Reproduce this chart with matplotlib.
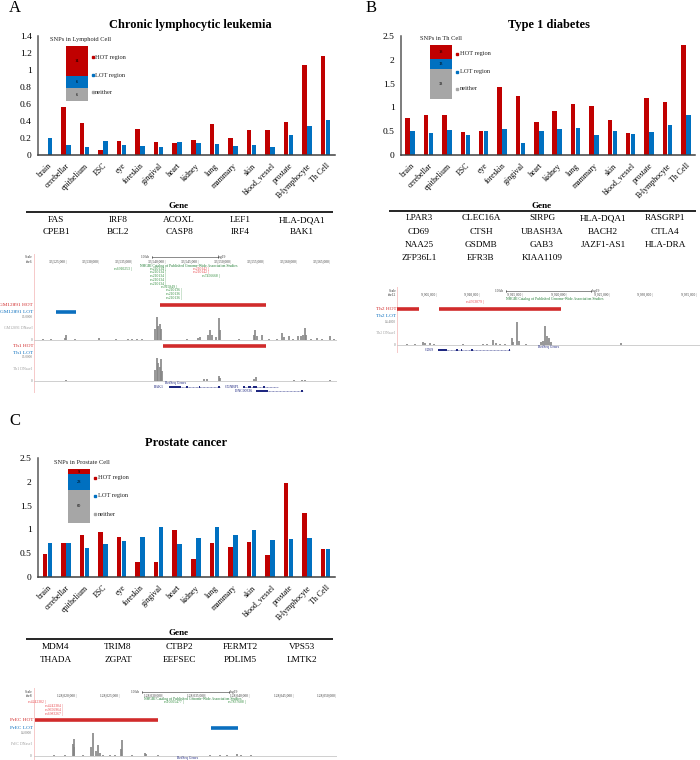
import matplotlib
matplotlib.use('Agg')
import matplotlib.pyplot as plt
import numpy as np

plt.rcParams['font.family'] = ['Liberation Serif', 'DejaVu Serif']

W, H = 700, 760

tissues = ['brain', 'cerebellar', 'epithelium', 'ESC', 'eye', 'foreskin', 'gingival', 'heart',
           'kidney', 'lung', 'mammary', 'skin', 'blood_vessel', 'prostate', 'B-lymphocyte', 'Th Cell']

# Enrichment bars
cll_hot = [0, .56, .38, .06, .17, .31, .15, .14, .18, .36, .20, .30, .29, .39, 1.06, 1.16]
cll_lot = [.20, .12, .09, .16, .12, .11, .09, .15, .14, .13, .11, .12, .10, .23, .34, .41]
t1d_hot = [.77, .85, .83, .48, .51, 1.42, 1.23, .70, .92, 1.08, 1.03, .73, .47, 1.19, 1.12, 2.32]
t1d_lot = [.50, .47, .53, .43, .50, .55, .26, .50, .55, .56, .42, .51, .45, .48, .63, .85]
pca_hot = [.48, .71, .89, .95, .84, .32, .32, .98, .37, .72, .62, .73, .47, 1.97, 1.35, .59]
pca_lot = [.71, .71, .60, .70, .75, .84, 1.05, .69, .82, 1.05, .89, .98, .77, .80, .82, .58]

# SNP counts in the small stacked bars (HOT, LOT, neither)
cll_snps = [14, 6, 6]
t1d_snps = [18, 13, 38]
pca_snps = [9, 28, 60]

cll_genes = [['FAS', 'IRF8', 'ACOXL', 'LEF1', 'HLA-DQA1'],
             ['CPEB1', 'BCL2', 'CASP8', 'IRF4', 'BAK1']]
t1d_genes = [['LPAR3', 'CLEC16A', 'SIRPG', 'HLA-DQA1', 'RASGRP1'],
             ['CD69', 'CTSH', 'UBASH3A', 'BACH2', 'CTLA4'],
             ['NAA25', 'GSDMB', 'GAB3', 'JAZF1-AS1', 'HLA-DRA'],
             ['ZFP36L1', 'EFR3B', 'KIAA1109']]
pca_genes = [['MDM4', 'TRIM8', 'CTBP2', 'FERMT2', 'VPS53'],
             ['THADA', 'ZGPAT', 'EEFSEC', 'PDLIM5', 'LMTK2']]

# Browser signal tracks: position in kb, height in track units
gm_pos = [33521.4, 33524.6, 33524.8, 33529.9, 33534.9, 33535.6, 33538.3, 33538.6, 33538.8, 33539.0, 33539.2,
          33544.8, 33545.2, 33546.3, 33546.6, 33546.9, 33547.5, 33548.0, 33548.2, 33553.3, 33553.5, 33553.8,
          33554.6, 33556.8, 33557.6, 33557.9, 33558.7, 33560.0, 33560.4, 33560.7, 33561.0, 33561.2, 33562.8, 33564.8,
          33520.6, 33522.5, 33523.4, 33526.2, 33527.5, 33528.6, 33531.2, 33532.4, 33533.5, 33534.2, 33536.4, 33540.5,
          33541.8, 33543.2, 33544.1, 33549.5, 33551.0, 33552.4, 33555.6, 33559.3, 33561.9, 33563.6, 33565.4]
gm_val = [.6, 1.2, 3.1, 1.2, .6, .8, 7, 14.2, 9, 10, 7, 1, 1.7, 3, 6.2, 3, 2, 13.5, 6, 3, 6.2, 2.5,
          3.1, .8, 4.6, 2, 2.5, 2.5, 2.8, 3, 7.3, 3, 1, 2.5,
          .3, .4, .3, .4, .3, .3, .3, .4, .3, .5, .4, .3, .3, .4, .3, .3, .4, .3, .4, .6, .4, .4, .4]
th1_pos = [33524.8, 33538.3, 33538.6, 33538.8, 33539.0, 33539.2, 33539.4, 33545.8, 33546.2, 33548.0, 33548.2,
           33553.3, 33553.6, 33560.6, 33561.0, 33564.8,
           33522.0, 33527.6, 33530.5, 33535.1, 33541.5, 33543.6, 33550.3, 33556.4, 33559.4, 33562.5]
th1_val = [.8, 7, 14.5, 11, 9, 13.5, 6, 1, 1.4, 3.2, 1.6, 1.2, 2.5, .6, .8, .5,
           .2, .2, .3, .2, .3, .3, .3, .2, .4, .2]
th2_pos = [9901.5, 9903.3, 9903.6, 9904.2, 9904.6, 9908.0, 9910.3, 9911.4, 9911.8, 9912.8, 9913.6, 9913.8, 9914.2,
           9914.4, 9917.0, 9917.2, 9917.5, 9917.7, 9917.9, 9918.1, 9926.2,
           9900.6, 9902.4, 9905.4, 9906.5, 9909.2, 9910.8, 9912.2, 9915.3, 9916.2, 9919.2, 9921.4, 9924.1, 9929.5, 9932.6]
th2_val = [.6, 2, 1.2, 1, .6, .4, .8, 3.2, 1.2, .8, 4, 2, 14, 2.5, 1.6, 2.5, 11.5, 5.3, 4.5, 2, 1.2,
           .3, .5, .3, .3, .3, .5, .6, .4, .3, .2, .2, .2, .2, .2]
prec_pos = [128019.5, 128019.6, 128019.7, 128021.6, 128021.8, 128022.2, 128022.4, 128022.6, 128023.8, 128025.1,
            128025.2, 128027.9, 128028.0, 128037.3, 128038.5, 128038.9,
            128015.8, 128017.3, 128018.6, 128020.7, 128023.0, 128024.4, 128026.4, 128029.4, 128031.0, 128033.2,
            128035.4, 128036.5, 128040.1, 128042.6, 128045.0, 128048.3]
prec_val = [7, 5, 10.2, 5, 13.3, 3, 6.7, 2, .6, 4, 9.4, 2, 1.2, .6, 1.2, .6,
            .2, .3, .3, .4, .4, .3, .4, .3, .2, .2, .3, .4, .3, .2, .2, .2]


def px_axes(fig, left, right, top, bottom):
    return fig.add_axes([left / W, 1 - bottom / H, (right - left) / W, (bottom - top) / H])


def draw_bars(fig, box, ymax, yticks, hot, lot):
    ax = px_axes(fig, *box)
    x = np.arange(len(tissues))
    ax.bar(x - .135, hot, .245, color='#C00000')
    ax.bar(x + .135, lot, .245, color='#0070C0')
    ax.set_xlim(-.5, len(tissues) - .5)
    ax.set_ylim(0, ymax)
    ax.set_yticks(yticks)
    ax.set_yticklabels([('%g' % t) for t in yticks], fontsize=6.8)
    ax.set_xticks(x)
    ax.set_xticklabels(tissues, fontsize=5.7, rotation=45, ha='right', va='top', rotation_mode='anchor')
    ax.tick_params(length=0, pad=4.5)
    ax.tick_params(axis='x', pad=5)
    ax.spines[['top', 'right']].set_visible(False)
    ax.spines['left'].set_color('#595959')
    ax.spines['bottom'].set_color('#404040')
    ax.spines['left'].set_linewidth(1.1)
    ax.spines['bottom'].set_linewidth(1.1)


def draw_inset(fig, ov, box, counts, title, title_x, title_y, key_x, key_ys):
    ax = px_axes(fig, *box)
    total = sum(counts)
    colors = ['#C00000', '#0070C0', '#A6A6A6']
    names = ['HOT region', 'LOT region', 'neither']
    bottom = total
    for c, col, name, ky in zip(counts, colors, names, key_ys):
        bottom -= c
        ax.bar(0, c, 1, bottom=bottom, color=col)
        ax.text(0, bottom + c / 2, str(c), fontsize=3.2, ha='center', va='center')
        ov.plot([key_x], [ky], 's', ms=2, color=col)
        ov.text(key_x + 2.5, ky, name, fontsize=4.6, va='center', color='#222222')
    ax.set_xlim(-.5, .5)
    ax.set_ylim(0, total)
    ax.axis('off')
    ov.text(title_x, title_y, title, fontsize=4.6, ha='center', va='center', color='#222222')


def draw_genes(ov, genes, xs, head_x, head_y, line_y, x0, x1, row_ys):
    ov.text(head_x, head_y, 'Gene', fontsize=6.6, weight='bold', ha='center', va='center')
    ov.plot([x0, x1], [line_y, line_y], color='black', lw=1.2, solid_capstyle='butt')
    for row, y in zip(genes, row_ys):
        for name, x in zip(row, xs):
            ov.text(x, y, name, fontsize=6.7, ha='center', va='center')


def browser(fig, left, right, top, bottom, kb0, kb1):
    ax = px_axes(fig, left, right, top, bottom)
    ax.set_xlim(kb0, kb1)
    ax.set_ylim(bottom, top)
    ax.axis('off')
    ax.patch.set_alpha(0)
    ax.axvline(kb0, color='#F6C9C9', lw=.7)
    return ax


def ruler(ax, ticks, y, chrom, scale_y, scale0, scale1):
    for t in ticks:
        ax.text(t - .08, y, format(t * 1000, ',') + ' |', fontsize=2.6, ha='right', va='center', color='#333333')
    ax.text(ax.get_xlim()[0] - .1, scale_y, 'Scale', fontsize=2.6, ha='right', va='center', color='#333333')
    ax.text(ax.get_xlim()[0] - .1, y, chrom, fontsize=2.6, ha='right', va='center', color='#333333')
    ax.plot([scale0, scale1], [scale_y, scale_y], color='#777777', lw=.6)
    ax.plot([scale0, scale0], [scale_y - 1, scale_y + 1], color='#333333', lw=.4)
    ax.plot([scale1, scale1], [scale_y - 1, scale_y + 1], color='#333333', lw=.4)
    ax.text(scale0 - .3, scale_y, '10 kb', fontsize=2.6, ha='right', va='center', color='#333333')
    ax.text(scale1 + .1, scale_y, 'hg19', fontsize=2.6, ha='left', va='center', color='#333333')


def signal(ax, pos, val, base, top, label, top_label, vmax=15):
    h = base - top
    ys = [base - v / vmax * h for v in val]
    ax.vlines(pos, ys, base, color='#858585', lw=1.2)
    ax.plot(ax.get_xlim(), [base, base], color='#C8C8C8', lw=.6)
    x0 = ax.get_xlim()[0]
    ax.text(x0 - .2, (base + top) / 2, label, fontsize=2.8, ha='right', va='center', color='#A0A0A0', clip_on=False)
    ax.text(x0 - .2, top + .5, top_label, fontsize=2.4, ha='right', va='center', color='#777777', clip_on=False)
    ax.text(x0 - .2, base, '0', fontsize=2.4, ha='right', va='center', color='#777777', clip_on=False)


def region(ax, spans, y, color, label):
    for a, b in spans:
        ax.plot([a, b], [y, y], color=color, lw=2.6, solid_capstyle='butt')
    x0 = ax.get_xlim()[0]
    ax.text(x0 - .05, y, label, fontsize=3.8, ha='right', va='center', color=color, clip_on=False)


def gene(ax, a, b, y, exons, name, name_x):
    ax.plot([a, b], [y, y], color='#1A237E', lw=.4, ls=(0, (1.5, 1)))
    ax.hlines([y] * len(exons), [e[0] for e in exons], [e[1] for e in exons], color='#1A237E', lw=1.4)
    ax.text(name_x, y, name, fontsize=2.8, ha='right', va='center', color='#1A237E')


def snps(ax, names, right_x, ys, color):
    for n, y in zip(names, ys):
        ax.text(right_x, y, n + ' |', fontsize=2.7, ha='right', va='center', color=color)


fig = plt.figure(figsize=(7, 7.6), dpi=100)

draw_bars(fig, (38, 335, 36, 155), 1.4, [0, .2, .4, .6, .8, 1, 1.2, 1.4], cll_hot, cll_lot)
draw_bars(fig, (401, 695, 36, 155), 2.5, [0, .5, 1, 1.5, 2, 2.5], t1d_hot, t1d_lot)
draw_bars(fig, (38, 335, 458, 577), 2.5, [0, .5, 1, 1.5, 2, 2.5], pca_hot, pca_lot)

ov = fig.add_axes([0, 0, 1, 1], zorder=5)
ov.set_xlim(0, W)
ov.set_ylim(H, 0)
ov.axis('off')

draw_inset(fig, ov, (66, 88, 46, 101), cll_snps, 'SNPs in Lymphoid Cell', 81, 40, 92.5, [57, 75, 92])
draw_inset(fig, ov, (430, 452, 45, 99), t1d_snps, 'SNPs in Th Cell', 441, 39, 457, [54, 72, 89])
draw_inset(fig, ov, (68, 90, 469, 523), pca_snps, 'SNPs in Prostate Cell', 82, 463, 95, [478, 496, 514])

for letter, x, y in [('A', 15, 8), ('B', 371, 8), ('C', 15, 421)]:
    ov.text(x, y, letter, fontsize=12, ha='center', va='center')
for name, x, y in [('Chronic lymphocytic leukemia', 190, 25), ('Type 1 diabetes', 549, 25), ('Prostate cancer', 186, 443)]:
    ov.text(x, y, name, fontsize=8.9, weight='bold', ha='center', va='center')

left_cols = [56, 118, 179, 240, 302]
right_cols = [419, 481, 542, 603, 665]
draw_genes(ov, cll_genes, left_cols, 179, 206, 212, 26, 333, [220, 232])
draw_genes(ov, t1d_genes, right_cols, 542, 206, 211, 389, 696, [218, 232, 245, 258])
draw_genes(ov, pca_genes, left_cols, 179, 633, 639, 26, 333, [647, 660])

# Panel A browser
a = browser(fig, 33.5, 337, 254, 393, 33519.9, 33565.9)
ruler(a, [33525 + 5 * i for i in range(9)], 262, 'chr6', 257, 33537.8, 33547.8)
a.text(33543.5, 265.5, 'NHGRI Catalog of Published Genome-Wide Association Studies', fontsize=2.7, ha='center', va='center', color='#1B7A2F')
snps(a, ['rs6910253'], 33534.7, [269], '#2E8B3A')
snps(a, ['rs210134'] * 5, 33539.9, [269, 272.5, 276, 279.5, 283.5], '#2E8B3A')
snps(a, ['rs915849'], 33541.6, [287], '#2E8B3A')
snps(a, ['rs210136'] * 3, 33542.3, [290.5, 294, 298], '#2E8B3A')
snps(a, ['rs210142'] * 2, 33546.5, [269, 272.5], '#E8474C')
snps(a, ['rs7456668'], 33548.1, [276], '#2E8B3A')
region(a, [(33539.1, 33555.1)], 305, '#D12B2B', 'GM12891 HOT')
region(a, [(33523.3, 33526.3)], 312, '#0B6FBF', 'GM12891 LOT')
signal(a, gm_pos, gm_val, 340, 316, 'GM12891 DNaseI', '15.0000')
region(a, [(33539.6, 33555.1)], 346, '#D12B2B', 'Th1 HOT')
a.text(33519.85, 353, 'Th1 LOT', fontsize=3.8, ha='right', va='center', color='#0B6FBF', clip_on=False)
signal(a, th1_pos, th1_val, 381, 357, 'Th1 DNaseI', '15.0000')
a.text(33541.4, 383.3, 'RefSeq Genes', fontsize=2.7, ha='center', va='center', color='#1A237E')
gene(a, 33540.5, 33548.2, 387, [(33540.5, 33541.8), (33541.8, 33542.2), (33543.0, 33543.3), (33545.0, 33545.2), (33547.8, 33548.2)], 'BAK1', 33539.6)
gene(a, 33551.6, 33556.9, 387, [(33551.6, 33552.0), (33552.4, 33552.8), (33553.2, 33553.7), (33554.7, 33555.0)], 'GGNBP1', 33551.2)
gene(a, 33553.6, 33560.7, 391, [(33553.6, 33555.4), (33560.4, 33560.7)], 'LINC00336', 33553.2)

# Panel B browser
b = browser(fig, 397, 700, 287, 353, 9900.35, 9935.35)
ruler(b, [9905 + 5 * i for i in range(7)], 295, 'chr12', 291, 9912.9, 9922.8)
b.text(9912.9, 299, 'NHGRI Catalog of Published Genome-Wide Association Studies', fontsize=2.7, ha='left', va='center', color='#1B7A2F')
snps(b, ['rs4763879'], 9910.4, [302], '#E8474C')
region(b, [(9900.4, 9902.9), (9905.2, 9919.3)], 309, '#D12B2B', 'Th2 HOT')
b.text(9900.3, 316, 'Th2 LOT', fontsize=3.8, ha='right', va='center', color='#0B6FBF', clip_on=False)
signal(b, th2_pos, th2_val, 345, 321, 'Th2 DNaseI', '14.4000', vmax=14.4)
b.text(9917.9, 347.3, 'RefSeq Genes', fontsize=2.7, ha='center', va='center', color='#1A237E')
gene(b, 9905.1, 9913.4, 350.3, [(9905.1, 9906.1), (9907.2, 9907.4), (9907.7, 9907.9), (9908.9, 9909.1), (9913.3, 9913.4)], 'CD69', 9904.6)

# Panel C browser
c = browser(fig, 33.5, 337, 688, 760, 128014.98, 128050.0)
ruler(c, [128020 + 5 * i for i in range(7)], 696, 'chr8', 692, 128027.5, 128037.5)
c.text(128027.7, 699, 'NHGRI Catalog of Published Genome-Wide Association Studies', fontsize=2.7, ha='left', va='center', color='#1B7A2F')
snps(c, ['rs10505477'], 128032.3, [702.5], '#2E8B3A')
snps(c, ['rs7837688'], 128039.4, [702.5], '#2E8B3A')
snps(c, ['rs4242382'], 128016.4, [702.5], '#E8474C')
snps(c, ['rs4242384', 'rs9656964', 'rs6983267'], 128018.3, [706, 710, 713.5], '#E8474C')
region(c, [(128015.1, 128029.4)], 720, '#D12B2B', 'PrEC HOT')
region(c, [(128035.5, 128038.6)], 728, '#0B6FBF', 'PrEC LOT')
signal(c, prec_pos, prec_val, 756, 732, 'PrEC DNaseI', '14.0000', vmax=14)
c.text(128032.8, 758.2, 'RefSeq Genes', fontsize=2.7, ha='center', va='center', color='#1A237E')

fig.savefig('out.png', dpi=100)
